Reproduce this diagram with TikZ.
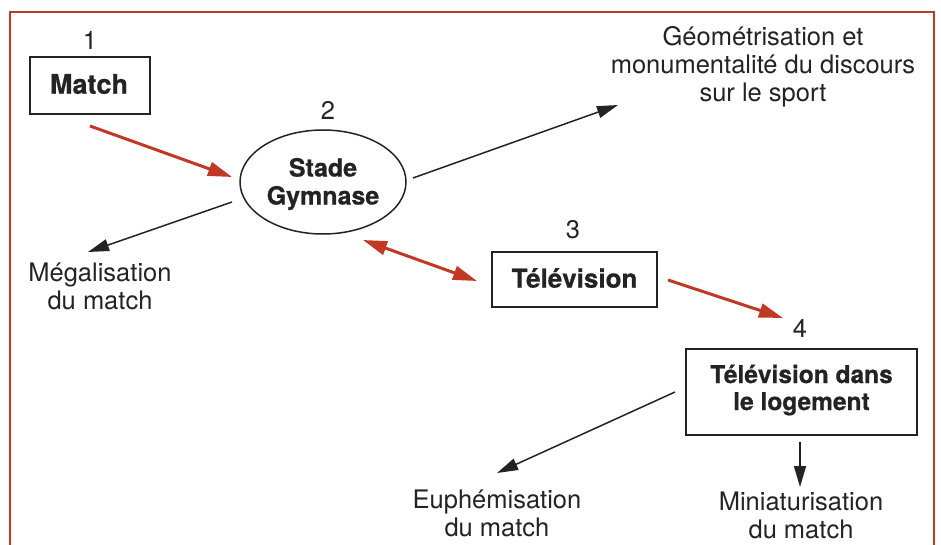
\documentclass[tikz,border=0pt]{standalone}
\usepackage{fontspec}
\setmainfont{TeX Gyre Heros}
\newfontfamily\heavyfont[BoldFeatures={FakeBold=0.7}]{TeX Gyre Heros}
\usetikzlibrary{arrows.meta,shapes.geometric}
\definecolor{brick}{RGB}{192,57,37}
\definecolor{ink}{RGB}{35,35,35}
\begin{document}
\begin{tikzpicture}[x=1pt,y=-1pt,
  lbl/.style={font=\fontsize{25.5}{28}\selectfont, text=ink, align=center, inner sep=0pt},
  boldlbl/.style={font=\heavyfont\bfseries\fontsize{24.5}{27}\selectfont, text=ink, align=center, inner sep=0pt},
  boxnode/.style={draw=ink, line width=1.5pt, inner sep=0pt},
  blackarrow/.style={draw=ink, line width=1.5pt, -{Triangle[length=21pt,width=12pt]}},
  redarrow/.style={draw=brick, line width=3pt, -{Triangle[length=24pt,width=14pt]}},
  redboth/.style={draw=brick, line width=3pt, {Triangle[length=24pt,width=14pt]}-{Triangle[length=24pt,width=14pt]}},
]
\useasboundingbox (0,0) rectangle (941,545);
\draw[brick, line width=2.5pt] (10,545) -- (10,12) -- (934,12) -- (934,545);

% numbers
\node[lbl] (n1) at (90,40) {1};
\node[lbl] (n2) at (328,110) {2};
\node[lbl] (n3) at (573,230) {3};
\node[lbl] (n4) at (800,328) {4};

% main nodes
\node[boxnode, minimum width=120pt, minimum height=57pt] (match) at (90,85.5) {};
\node[boldlbl, font=\heavyfont\bfseries\fontsize{27}{30}\selectfont] (matcht) at (89,84) {Match};

\node[draw=ink, line width=1.5pt, ellipse, minimum width=166pt, minimum height=104pt, inner sep=0pt] (stade) at (323,182) {};
\node[boldlbl, font=\heavyfont\bfseries\fontsize{25}{28}\selectfont] (stadet) at (323,184) {Stade\\Gymnase};

\node[boxnode, minimum width=165pt, minimum height=55pt] (tele) at (574.5,279.5) {};
\node[boldlbl, font=\heavyfont\bfseries\fontsize{26}{29}\selectfont] (telet) at (574.5,278) {Télévision};

\node[boxnode, minimum width=231pt, minimum height=86pt] (logt) at (801.5,392) {};
\node[boldlbl] (logtt) at (801.5,390) {Télévision dans\\le logement};

% outcome labels
\node[lbl] (geo) at (763,67) {Géométrisation et\\monumentalité du discours\\sur le sport};
\node[lbl] (mega) at (100,286) {Mégalisation\\du match};
\node[lbl] (euph) at (497,513) {Euphémisation\\du match};
\node[lbl] (mini) at (801,515) {Miniaturisation\\du match};

% connector end points
\coordinate (a1s) at (90,126);
\coordinate (a1e) at (232,177);
\coordinate (a2s) at (413,178);
\coordinate (a2e) at (618,105);
\coordinate (a3s) at (232,202);
\coordinate (a3e) at (88,252);
\coordinate (a4s) at (363,240);
\coordinate (a4e) at (477,281);
\coordinate (a5s) at (668,280);
\coordinate (a5e) at (783,318);
\coordinate (a6s) at (675,392);
\coordinate (a6e) at (497,473);
\coordinate (a7s) at (800,442);
\coordinate (a7e) at (800,487);

\draw[redarrow] (a1s) -- (a1e);
\draw[blackarrow] (a2s) -- (a2e);
\draw[blackarrow] (a3s) -- (a3e);
\draw[redboth] (a4s) -- (a4e);
\draw[redarrow] (a5s) -- (a5e);
\draw[blackarrow] (a6s) -- (a6e);
\draw[blackarrow] (a7s) -- (a7e);
\end{tikzpicture}
\end{document}
